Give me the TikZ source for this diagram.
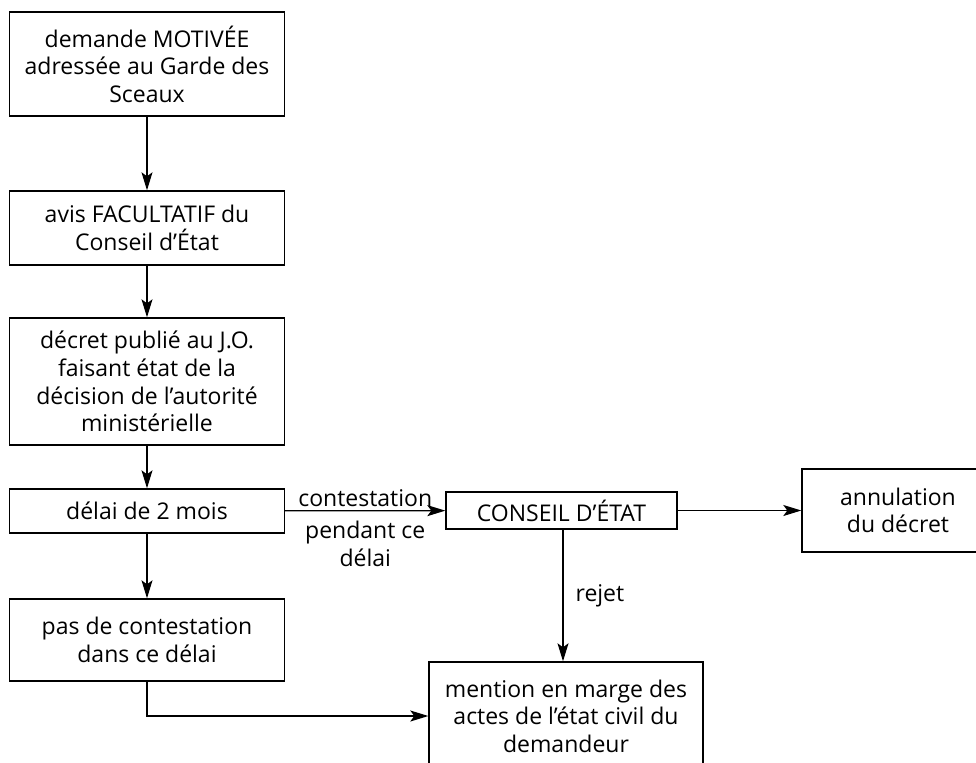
\documentclass[tikz,border=0pt]{standalone}
\usepackage{fontspec}
\setmainfont{Open Sans}
\usetikzlibrary{positioning, arrows.meta}

\begin{document}
\begin{tikzpicture}[
  x=0.5pt, y=-0.5pt,
  bx/.style={draw, line width=0.7pt, align=center, inner sep=0pt,
             font=\fontsize{11.5}{13.8}\selectfont},
  lbl/.style={align=center, font=\fontsize{11.5}{13.8}\selectfont},
  arr/.style={-{Stealth[length=9pt, width=5.5pt, inset=2pt]}, line width=0.6pt},
]
\useasboundingbox (0,0) rectangle (976,762);

% Left column: procedure
\node[bx, minimum width=137.5pt, minimum height=52pt] (dem) at (147, 64) {demande MOTIVÉE\\adressée au Garde des\\Sceaux};
\node[bx, minimum width=137.5pt, minimum height=37pt] (avis) at (147, 228) {avis FACULTATIF du\\Conseil d’État};
\node[bx, minimum width=137.5pt, minimum height=63.5pt] (dec) at (147, 381.5) {décret publié au J.O.\\faisant état de la\\décision de l’autorité\\ministérielle};
\node[bx, minimum width=137.5pt, minimum height=22pt] (del) at (147, 511) {délai de 2 mois};
\node[bx, minimum width=137.5pt, minimum height=41pt] (pas) at (147, 640) {pas de contestation\\dans ce délai};

% Right part: recours
\node[bx, minimum width=115.5pt, minimum height=18.5pt] (ce) at (561.5, 510.5) {CONSEIL D’ÉTAT};
\node[bx, minimum width=96pt, minimum height=41.5pt] (ann) at (898, 510.5) {annulation\\du décret};
\node[bx, minimum width=137pt, minimum height=54pt] (men) at (566, 716) {mention en marge des\\actes de l’état civil du\\demandeur};

% Arrows
\draw[arr] (dem) -- (avis);
\draw[arr] (avis) -- (dec);
\draw[arr] (dec) -- (del);
\draw[arr] (del) -- (pas);
\draw[arr] (del) -- node[lbl, above, inner sep=1.5pt] {contestation}
  node[lbl, below, inner sep=5pt] {pendant ce\\délai} (ce);
\draw[arr] (ce) -- (ann);
\draw[arr] (ce.south -| 563, 0) -- node[lbl, right, inner sep=6pt] {rejet} (men.north -| 563, 0);
\draw[arr] (pas.south) |- (men.west);

\end{tikzpicture}
\end{document}
